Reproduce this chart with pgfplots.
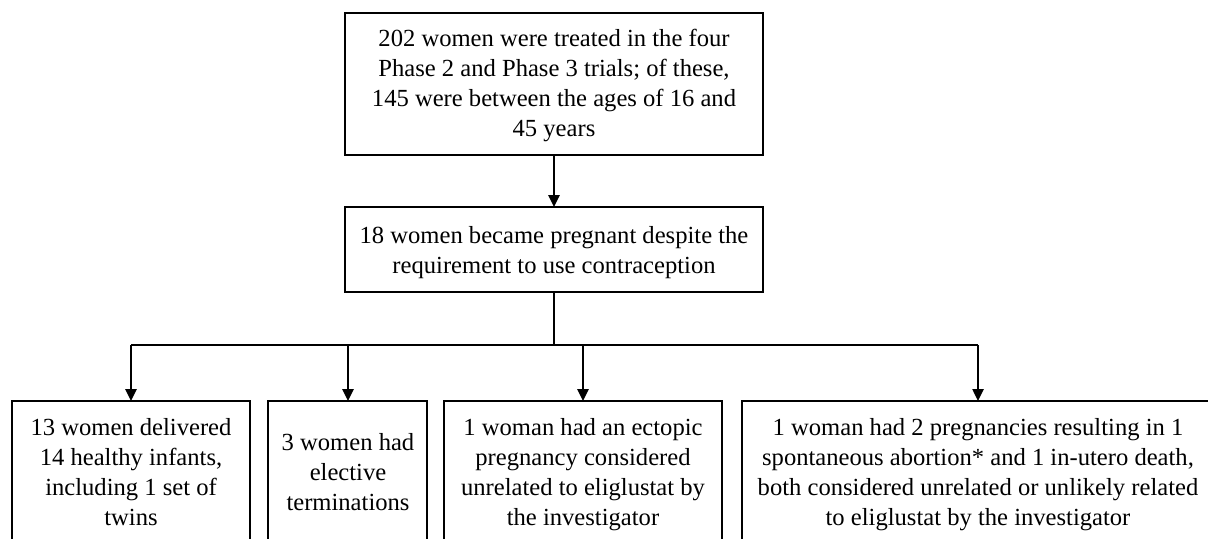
\documentclass[border=0pt]{standalone}
\usepackage{pgfplots}
\pgfplotsset{compat=1.18}
\usepackage{fontspec}
\setmainfont{Liberation Serif}
\usetikzlibrary{arrows.meta}
\newcommand{\tl}[3]{\node[font=\fontsize{12.3}{15}\selectfont, anchor=base, inner sep=0pt] at (axis cs:#1,#2) {#3};}
\begin{document}
\begin{tikzpicture}
\begin{axis}[width=604pt,height=269pt,scale only axis,
  xmin=0,xmax=1208,ymin=0,ymax=538,y dir=reverse,hide axis,clip=true]
\addplot[draw=none] coordinates {(0,0) (1208,538)};
% boxes
\addplot[black,line width=0.95pt] coordinates {(345,13) (763,13) (763,155) (345,155) (345,13) (763,13)};
\addplot[black,line width=0.95pt] coordinates {(345,207) (763,207) (763,292) (345,292) (345,207) (763,207)};
\addplot[black,line width=0.95pt] coordinates {(12,560) (12,401) (250,401) (250,560)};
\addplot[black,line width=0.95pt] coordinates {(268,560) (268,401) (427,401) (427,560)};
\addplot[black,line width=0.95pt] coordinates {(444,560) (444,401) (722,401) (722,560)};
\addplot[black,line width=0.95pt] coordinates {(742,560) (742,401) (1230,401)};
% connectors
\addplot[black,line width=1.25pt,-{Triangle[width=5.5pt,length=6pt]}] coordinates {(554,155) (554,207)};
\addplot[black,line width=1.25pt] coordinates {(554,292) (554,345)};
\addplot[black,line width=1.25pt] coordinates {(131,345) (978,345)};
\addplot[black,line width=1.25pt,-{Triangle[width=5.5pt,length=6pt]}] coordinates {(131,345) (131,401)};
\addplot[black,line width=1.25pt,-{Triangle[width=5.5pt,length=6pt]}] coordinates {(348,345) (348,401)};
\addplot[black,line width=1.25pt,-{Triangle[width=5.5pt,length=6pt]}] coordinates {(583,345) (583,401)};
\addplot[black,line width=1.25pt,-{Triangle[width=5.5pt,length=6pt]}] coordinates {(978,345) (978,401)};
% texts
\tl{554}{46}{202 women were treated in the four}
\tl{554}{76}{Phase 2 and Phase 3 trials; of these,}
\tl{554}{106}{145 were between the ages of 16 and}
\tl{554}{136}{45 years}
\tl{554}{243}{18 women became pregnant despite the}
\tl{554}{273}{requirement to use contraception}
\tl{131}{435}{13 women delivered}
\tl{131}{465}{14 healthy infants,}
\tl{131}{495}{including 1 set of}
\tl{131}{525}{twins}
\tl{348}{450}{3 women had}
\tl{348}{480}{elective}
\tl{348}{510}{terminations}
\tl{583}{435}{1 woman had an ectopic}
\tl{583}{465}{pregnancy considered}
\tl{583}{495}{unrelated to eliglustat by}
\tl{583}{525}{the investigator}
\tl{978}{435}{1 woman had 2 pregnancies resulting in 1}
\tl{978}{465}{spontaneous abortion* and 1 in-utero death,}
\tl{978}{495}{both considered unrelated or unlikely related}
\tl{978}{525}{to eliglustat by the investigator}
\end{axis}
\end{tikzpicture}
\end{document}
